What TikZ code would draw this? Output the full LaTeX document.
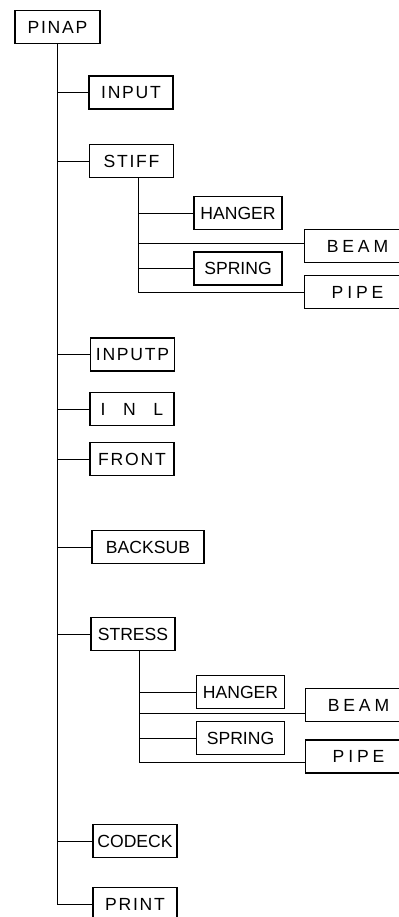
\documentclass[tikz,border=0pt]{standalone}
\usepackage{fontspec}
\setmainfont{Liberation Sans}
\newfontfamily\spacedfont[LetterSpace=10]{Liberation Sans}
\newfontfamily\widerfont[LetterSpace=22]{Liberation Sans}
\usetikzlibrary{positioning}

\begin{document}
\begin{tikzpicture}[x=0.025cm, y=-0.025cm,
    box/.style={draw, line width=0.9pt, minimum width=2.1cm, minimum height=0.82cm,
      inner sep=0pt, font=\fontsize{12.5}{14}\selectfont},
    subbox/.style={box, minimum width=2.2cm},
    longbox/.style={box, minimum width=2.65cm, font=\fontsize{12.5}{14}\widerfont},
    spaced/.style={font=\fontsize{12.5}{14}\spacedfont},
    link/.style={line width=0.5pt}]
    \useasboundingbox (0,0) rectangle (399,917);

    % Main program
    \node[box, minimum width=2.13cm, spaced] (pinap) at (57.5,27) {PINAP};

    % First level routines
    \node[box, spaced] (input)   at (131,92.5)  {INPUT};
    \node[box, spaced] (stiff)   at (131.5,161) {STIFF};
    \node[box, spaced] (inputp)  at (132.5,354.5) {INPUTP};
    \node[box]         (inl)     at (132,409)   {I\quad N\quad L};
    \node[box, spaced] (front)   at (132,459)   {FRONT};
    \node[box, minimum width=2.8cm] (backsub) at (148,547) {BACKSUB};
    \node[box]         (stress)  at (133,634)   {STRESS};
    \node[box]         (codeck)  at (135,841)   {CODECK};
    \node[box, spaced] (print)   at (135,904)   {PRINT};

    % Element routines under STIFF
    \node[subbox]  (hangerA) at (238,213)   {HANGER};
    \node[longbox] (beamA)   at (357.5,246) {BEAM};
    \node[subbox]  (springA) at (238,268.5) {SPRING};
    \node[longbox] (pipeA)   at (357.5,292) {PIPE};

    % Element routines under STRESS
    \node[subbox]  (hangerB) at (240.5,692) {HANGER};
    \node[longbox] (beamB)   at (358.5,705) {BEAM};
    \node[subbox]  (springB) at (240.5,738) {SPRING};
    \node[longbox] (pipeB)   at (358.5,756.5) {PIPE};

    % Main trunk
    \draw[link] (pinap.south) |- (print.west);
    \foreach \n in {input,stiff,inputp,inl,front,backsub,stress,codeck}
        \draw[link] (pinap.south |- \n.west) -- (\n.west);

    % STIFF branch
    \coordinate (stifftop) at ([xshift=0.16cm]stiff.south);
    \coordinate (beamAin) at ([yshift=0.075cm]beamA.west);
    \draw[link] (stifftop) |- (pipeA.west);
    \foreach \n in {hangerA,beamAin,springA}
        \draw[link] (stifftop |- \n) -- (\n);

    % STRESS branch
    \coordinate (stresstop) at ([xshift=0.15cm]stress.south);
    \coordinate (beamBin) at ([yshift=-0.2cm]beamB.west);
    \coordinate (pipeBin) at ([yshift=-0.14cm]pipeB.west);
    \draw[link] (stresstop) |- (pipeBin);
    \foreach \n in {hangerB,beamBin,springB}
        \draw[link] (stresstop |- \n) -- (\n);
\end{tikzpicture}
\end{document}
